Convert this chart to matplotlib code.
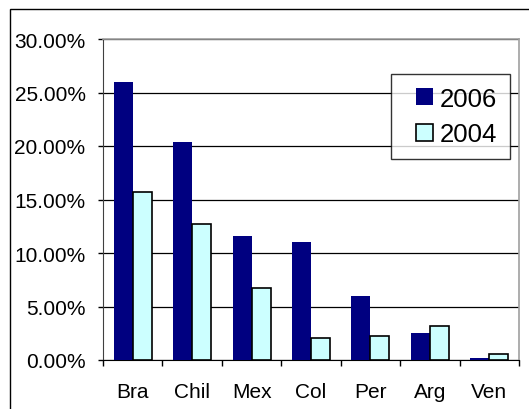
import numpy as np
import matplotlib.pyplot as plt
from matplotlib.patches import Rectangle
from matplotlib.container import BarContainer
from matplotlib.legend_handler import HandlerPatch, update_from_first_child
from matplotlib.ticker import FixedLocator, NullFormatter

plt.rcParams['font.family'] = ['Liberation Sans', 'DejaVu Sans']

countries = ["Bra", "Chil", "Mex", "Col", "Per", "Arg", "Ven"]
share_2006 = [26.0, 20.4, 11.6, 11.05, 6.0, 2.5, 0.22]
share_2004 = [15.7, 12.7, 6.7, 2.05, 2.2, 3.15, 0.56]
y_ticks = [0, 5, 10, 15, 20, 25, 30]

W, H = 529, 410
fig = plt.figure(figsize=(W / 100, H / 100), dpi=100)

# outer chart frame
fig.patches.append(Rectangle((10 / W, -0.1), 1.2, (H - 10) / H + 0.1,
                             transform=fig.transFigure, fill=False,
                             edgecolor="black", linewidth=1.0))

ax = fig.add_axes([103 / W, 1 - 361 / H, (519 - 103) / W, (361 - 40) / H])

x = np.arange(len(countries))
bw = 0.32
ax.bar(x - bw / 2, share_2006, bw, color="#000080", label="2006", zorder=3)
ax.bar(x + bw / 2, share_2004, bw, color="#CCFFFF", edgecolor="black",
       linewidth=1.2, label="2004", zorder=3)

ax.set_xlim(-0.5, len(countries) - 0.5)
ax.set_ylim(0, 30)
ax.set_yticks(y_ticks)
ax.set_yticklabels(["%.2f%%" % v for v in y_ticks], fontsize=15)
ax.yaxis.grid(True, color="black", linewidth=0.9, zorder=0)

ax.set_xticks(x)
ax.set_xticklabels(countries, fontsize=15)
ax.tick_params(axis="x", which="major", length=0, pad=16)
ax.xaxis.set_minor_locator(FixedLocator(np.arange(-0.5, len(countries), 1)))
ax.xaxis.set_minor_formatter(NullFormatter())
ax.tick_params(axis="x", which="minor", length=4, direction="out", width=1)
ax.tick_params(axis="y", length=3.6, direction="out", width=1, pad=9)

for side in ["top", "right"]:
    ax.spines[side].set_color("#a0a0a0")
    ax.spines[side].set_linewidth(1.2)
ax.spines["left"].set_color("#404040")
ax.spines["bottom"].set_color("black")


# small square key pushed to the right end of the handle slot
def square_key(legend, orig_handle, xdescent, ydescent, width, height, fontsize):
    s = height
    return Rectangle((width - s - xdescent, -ydescent), s, s)


key_handler = HandlerPatch(patch_func=square_key, update_func=update_from_first_child)
leg = ax.legend(loc="upper right", bbox_to_anchor=(407 / 416, 1 - 35 / 321),
                fontsize=18.5, frameon=True, fancybox=False, handlelength=1.15,
                handleheight=0.65, handletextpad=0.25, borderpad=0.5,
                labelspacing=0.45, borderaxespad=0,
                handler_map={BarContainer: key_handler})
leg.get_frame().set_edgecolor("black")
leg.get_frame().set_linewidth(1.0)

fig.savefig("out.png", dpi=100)
